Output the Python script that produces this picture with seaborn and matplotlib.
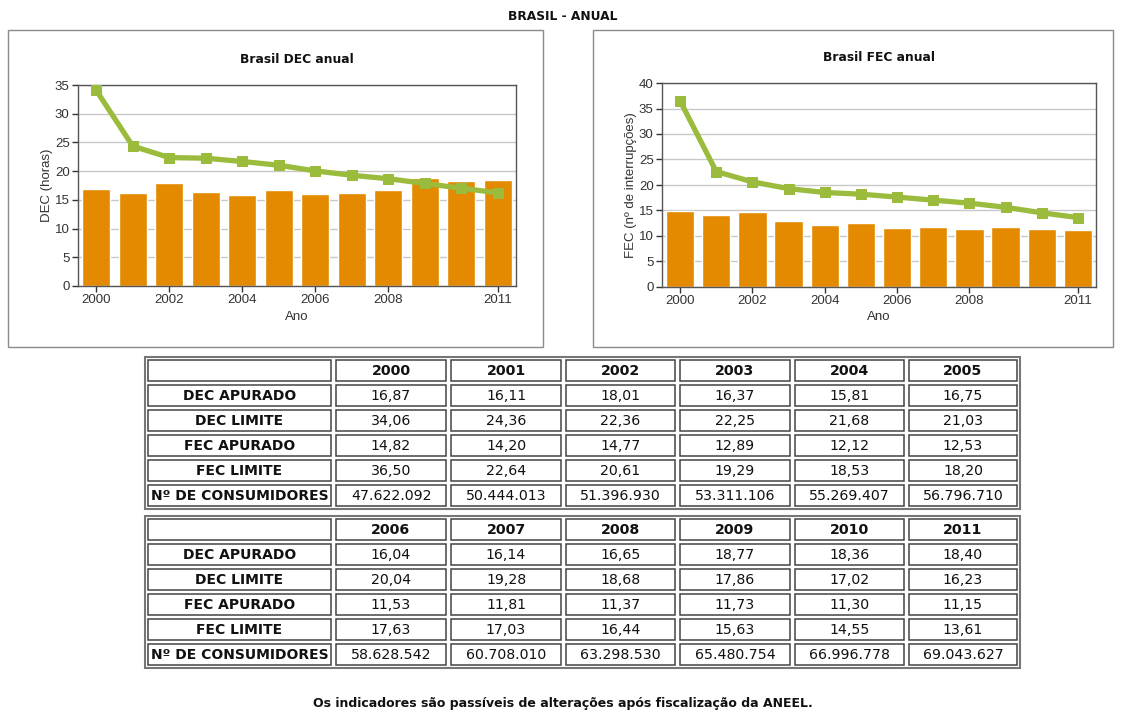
import matplotlib
matplotlib.use("Agg")
import matplotlib.pyplot as plt
import seaborn as sns
from matplotlib.patches import Rectangle

years = [2000, 2001, 2002, 2003, 2004, 2005, 2006, 2007, 2008, 2009, 2010, 2011]
dec_apurado = [16.87, 16.11, 18.01, 16.37, 15.81, 16.75, 16.04, 16.14, 16.65, 18.77, 18.36, 18.40]
dec_limite = [34.06, 24.36, 22.36, 22.25, 21.68, 21.03, 20.04, 19.28, 18.68, 17.86, 17.02, 16.23]
fec_apurado = [14.82, 14.20, 14.77, 12.89, 12.12, 12.53, 11.53, 11.81, 11.37, 11.73, 11.30, 11.15]
fec_limite = [36.50, 22.64, 20.61, 19.29, 18.53, 18.20, 17.63, 17.03, 16.44, 15.63, 14.55, 13.61]
consumidores = [47622092, 50444013, 51396930, 53311106, 55269407, 56796710,
                58628542, 60708010, 63298530, 65480754, 66996778, 69043627]
row_labels = ["DEC APURADO", "DEC LIMITE", "FEC APURADO", "FEC LIMITE", "Nº DE CONSUMIDORES"]
xticks = [2000, 2002, 2004, 2006, 2008, 2011]

sns.set_theme(style="white")
plt.rcParams['font.family'] = ['Liberation Sans', 'DejaVu Sans']

W, H = 1121, 718
bar_color = '#E38A00'
green = '#9BBB3C'

fig = plt.figure(figsize=(W / 100, H / 100), dpi=100)
fig.patch.set_facecolor('white')

# fundo em coordenadas de pixel (caixas, tabelas, textos)
bg = fig.add_axes([0, 0, 1, 1])
bg.set_xlim(0, W)
bg.set_ylim(H, 0)
bg.axis('off')

bg.add_patch(Rectangle((8, 30), 535, 317, fill=False, edgecolor='#8a8a8a', lw=1))
bg.add_patch(Rectangle((593, 30), 520, 317, fill=False, edgecolor='#8a8a8a', lw=1))

bold = ['DejaVu Sans']
bg.text(563, 16, "BRASIL - ANUAL", ha='center', va='center', fontsize=8.8,
        fontweight='bold', family=bold, color='#111')
bg.text(563, 704, "Os indicadores são passíveis de alterações após fiscalização da ANEEL.",
        ha='center', va='center', fontsize=9, fontweight='bold', family=bold, color='#111')


def fmt(v):
    return f"{v:.2f}".replace('.', ',')


def fmt_int(v):
    return f"{v:,}".replace(',', '.')


col_edges = [(148, 331), (336, 446), (451, 561), (566, 675), (680, 790), (795, 904), (909, 1017)]


def draw_table(top, idx):
    bg.add_patch(Rectangle((145, top - 3), 875, 152, fill=False, edgecolor='#777', lw=1.5))
    rows = [[str(years[i]) for i in idx],
            [fmt(dec_apurado[i]) for i in idx],
            [fmt(dec_limite[i]) for i in idx],
            [fmt(fec_apurado[i]) for i in idx],
            [fmt(fec_limite[i]) for i in idx],
            [fmt_int(consumidores[i]) for i in idx]]
    labels = [""] + row_labels
    for r in range(6):
        y0 = top + r * 25
        for c, (x0, x1) in enumerate(col_edges):
            bg.add_patch(Rectangle((x0, y0), x1 - x0, 21, fill=False,
                                   edgecolor='#444', lw=1.1))
            if c == 0:
                txt, w = labels[r], 'bold'
                fs = 10
            else:
                txt = rows[r][c - 1]
                w = 'bold' if r == 0 else 'normal'
                fs = 10.2
            bg.text((x0 + x1) / 2, y0 + 11, txt, ha='center', va='center',
                    fontsize=fs, fontweight=w, family=bold, color='#111')


draw_table(360, range(0, 6))
draw_table(519, range(6, 12))


def chart(rect, apurado, limite, ymax, title, ylabel, lpad):
    x0, y_top, x1, y_bot = rect
    ax = fig.add_axes([x0 / W, 1 - y_bot / H, (x1 - x0) / W, (y_bot - y_top) / H])
    ax.set_facecolor('white')
    sns.barplot(x=years, y=apurado, native_scale=True, color=bar_color,
                saturation=1, width=0.78, ax=ax, zorder=2)
    sns.lineplot(x=years, y=limite, ax=ax, color=green, linewidth=3.8, marker='s',
                 markersize=7, markeredgecolor=green, zorder=3)
    ax.set_xlim(1999.5, 2011.5)
    ax.set_ylim(0, ymax)
    ax.set_yticks(range(0, ymax + 1, 5))
    ax.set_xticks(xticks)
    ax.set_xticklabels([str(t) for t in xticks])
    ax.yaxis.grid(True, color='#c8c8c8', lw=1, zorder=0)
    ax.set_axisbelow(True)
    for s in ax.spines.values():
        s.set_color('#555')
        s.set_linewidth(1)
    ax.tick_params(axis='both', labelsize=9.5, colors='#333', length=4, width=1,
                   direction='out', left=True, bottom=True, pad=2)
    ax.set_title(title, fontsize=8.8, fontweight='bold', family=bold,
                 color='#111', pad=16)
    ax.set_xlabel("Ano", fontsize=9.5, color='#333', labelpad=3)
    ax.set_ylabel(ylabel, fontsize=9.5, color='#333', labelpad=lpad)
    return ax


chart((78, 85, 516, 286), dec_apurado, dec_limite, 35, "Brasil DEC anual", "DEC (horas)", 1)
chart((662, 83, 1096, 287), fec_apurado, fec_limite, 40, "Brasil FEC anual",
      "FEC (nº de interrupções)", 1)

fig.savefig("out.png", dpi=100)
